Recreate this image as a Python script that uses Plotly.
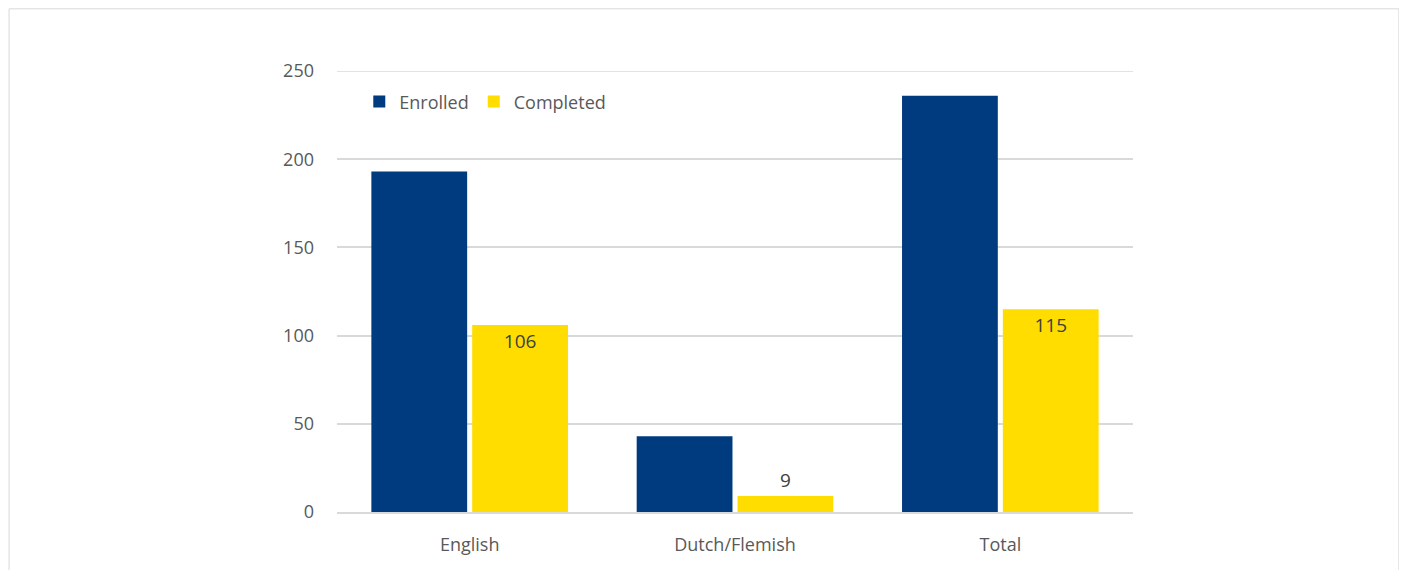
import plotly.graph_objects as go

categories = ["English", "Dutch/Flemish", "Total"]
enrolled = [193, 43, 236]
completed = [106, 9, 115]
completed_labels = ["106", "9", "115"]
y_ticks = [0, 50, 100, 150, 200, 250]

font_family = "Open Sans, Liberation Sans, sans-serif"
text_grey = "#595959"

fig = go.Figure()

fig.add_trace(go.Bar(
    x=categories, y=enrolled, name="Enrolled",
    marker=dict(color="#003B80", line=dict(width=0)),
))
fig.add_trace(go.Bar(
    x=categories, y=completed, name="Completed",
    marker=dict(color="#FFDD00", line=dict(width=0)),
    text=completed_labels,
    textposition="auto",
    insidetextanchor="end",
    textangle=0,
    insidetextfont=dict(color="#404040", size=19, family=font_family),
    outsidetextfont=dict(color="#404040", size=19, family=font_family),
    cliponaxis=False,
))

# page body has an 8px margin, so the figure is a bit smaller than the window
fig.update_layout(
    width=1391, height=562,
    margin=dict(l=329, r=266, t=63, b=58),
    paper_bgcolor="white", plot_bgcolor="white",
    barmode="group", bargap=0.24, bargroupgap=0.05,
    font=dict(family=font_family, color=text_grey, size=18),
    showlegend=True,
    legend=dict(
        orientation="h", x=0.028, y=0.93, xanchor="left", yanchor="middle",
        font=dict(size=18, color=text_grey), bgcolor="rgba(0,0,0,0)",
        itemwidth=30, traceorder="normal",
    ),
    xaxis=dict(
        showgrid=False, showline=True, linecolor="#d9d9d9", linewidth=1.5,
        ticks="", ticklabelstandoff=16, tickfont=dict(size=18, color=text_grey),
    ),
    yaxis=dict(
        range=[0, 250], tickvals=y_ticks, showgrid=True,
        gridcolor="#d9d9d9", gridwidth=1.5, zeroline=False,
        showline=False, ticks="", ticklabelstandoff=22,
        tickfont=dict(size=18, color=text_grey),
    ),
    shapes=[
        # outer chart border
        dict(
            type="rect", xref="paper", yref="paper",
            x0=-0.412, x1=1.334, y0=-0.2, y1=1.141,
            line=dict(color="#d9d9d9", width=1), fillcolor="rgba(0,0,0,0)",
            layer="below",
        ),
        # top gridline, which plotly drops at the range edge
        dict(
            type="line", xref="paper", yref="y",
            x0=0, x1=1, y0=y_ticks[-1], y1=y_ticks[-1],
            line=dict(color="#d9d9d9", width=1.5), layer="below",
        ),
    ],
)

fig.write_html("out.html")
